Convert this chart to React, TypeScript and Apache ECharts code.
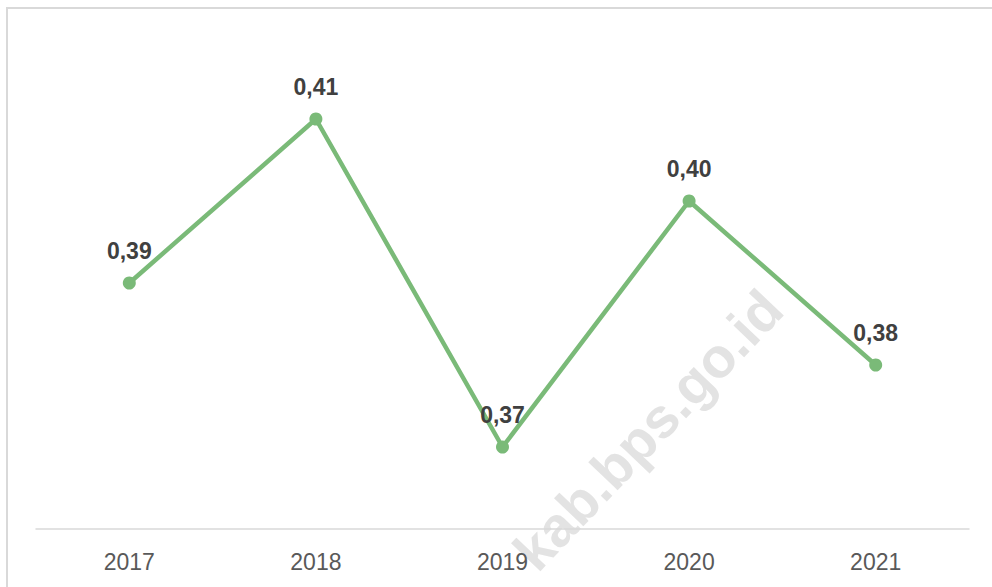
import React, { useEffect, useRef } from "react";
import * as echarts from "echarts";

const categories = ["2017", "2018", "2019", "2020", "2021"];
const values = [0.39, 0.41, 0.37, 0.4, 0.38];
const watermark = "kab.bps.go.id";

export default function App() {
  const ref = useRef<HTMLDivElement>(null);
  useEffect(() => {
    if (!ref.current) return;
    const chart = echarts.init(ref.current, undefined, { renderer: "svg" });
    chart.setOption({
      animation: false,
      backgroundColor: "#ffffff",
      graphic: [
        {
          type: "rect",
          z: -10,
          silent: true,
          shape: { x: 7, y: 8, width: 1000, height: 600 },
          style: { fill: "none", stroke: "#d9d9d9", lineWidth: 2 },
        },
        {
          type: "text",
          z: -5,
          silent: true,
          x: 648,
          y: 430,
          rotation: 0.81,
          style: {
            text: watermark,
            fill: "#e3e3e3",
            font: "bold 56px 'Liberation Sans', sans-serif",
            align: "center",
            verticalAlign: "middle",
          },
        },
      ],
      grid: { left: 36, right: 23, top: 37, bottom: 58, containLabel: false },
      xAxis: {
        type: "category",
        data: categories,
        boundaryGap: true,
        axisLine: { lineStyle: { color: "#d9d9d9", width: 1.5 } },
        axisTick: { show: false },
        axisLabel: {
          color: "#595959",
          fontSize: 23,
          fontFamily: "'Liberation Sans', sans-serif",
          margin: 21,
        },
      },
      yAxis: {
        type: "value",
        min: 0.36,
        max: 0.42,
        show: false,
        splitLine: { show: false },
      },
      series: [
        {
          type: "line",
          data: values,
          symbol: "circle",
          symbolSize: 13,
          lineStyle: { color: "#7aba78", width: 4.5 },
          itemStyle: { color: "#7aba78" },
          label: {
            show: true,
            position: "top",
            distance: 14,
            color: "#404040",
            fontWeight: "bold",
            fontSize: 23,
            fontFamily: "'Liberation Sans', sans-serif",
            formatter: (p: any) => Number(p.value).toFixed(2).replace(".", ","),
          },
        },
      ],
    });
    return () => chart.dispose();
  }, []);
  return <div ref={ref} style={{ width: 992, height: 587, position: "fixed", left: 0, top: 0 }} />;
}
